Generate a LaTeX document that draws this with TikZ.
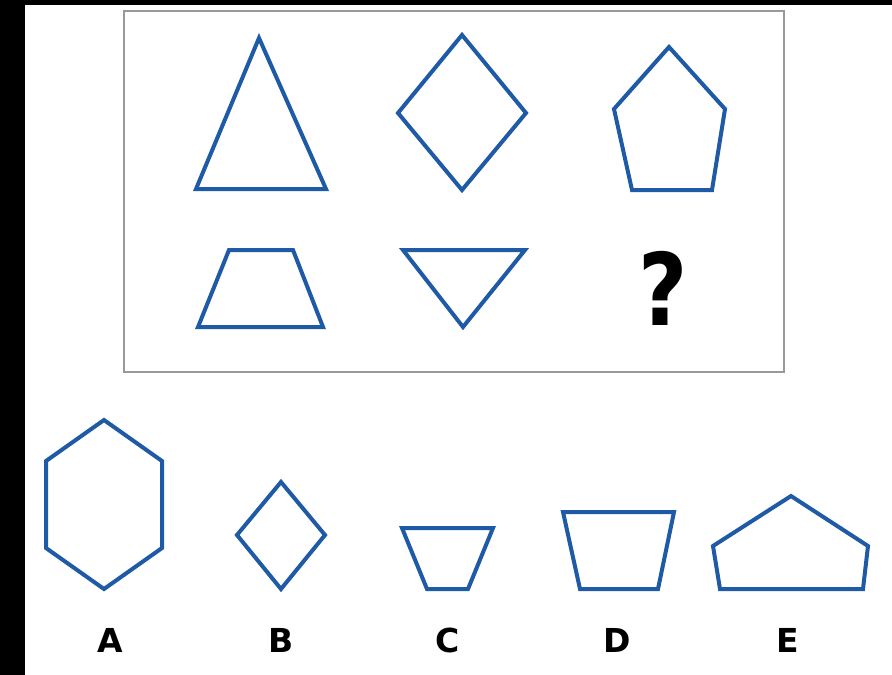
\documentclass[tikz,border=0pt]{standalone}
\usepackage{fontspec}
\usepackage{tikz}
\usetikzlibrary{positioning}
\newfontfamily\lblfont{DejaVu Sans}
\definecolor{shapeblue}{HTML}{1F5AA6}
\definecolor{framegray}{HTML}{999999}

\begin{document}
\begin{tikzpicture}[x=1pt,y=-1pt,
			shp/.style={draw=shapeblue,line width=4pt,line join=miter},
			lbl/.style={font=\lblfont\bfseries\fontsize{33}{33}\selectfont,text=black,inner sep=0pt},
			qm/.style={font=\lblfont\bfseries\fontsize{100}{100}\selectfont,text=black,inner sep=0pt,xscale=0.85,transform shape}
			]
			\useasboundingbox (0,0) rectangle (892,675);
			\fill[black] (0,0) rectangle (892,675);
			\fill[white] (25,5) rectangle (892,675);
			% puzzle frame
			\draw[framegray,line width=2.5pt] (124,11) rectangle (784,372);
			% top row
			\draw[shp] (259,38) -- (326,189) -- (196,189) -- cycle;
			\draw[shp] (462,35) -- (526,113) -- (462,190) -- (398,113) -- cycle;
			\draw[shp] (669,47) -- (725,109) -- (712,190) -- (632,190) -- (614,109) -- cycle;
			% bottom row
			\draw[shp] (229,250) -- (293,250) -- (323,327) -- (198,327) -- cycle;
			\draw[shp] (403,250) -- (525,250) -- (463,327) -- cycle;
			\node[qm] (q) at (663,288) {?};
			% answer choices
			\draw[shp] (104,420) -- (162,461) -- (162,548) -- (104,589) -- (46,548) -- (46,461) -- cycle;
			\draw[shp] (281,482) -- (325,535) -- (281,589) -- (237,535) -- cycle;
			\draw[shp] (402,528) -- (493,528) -- (468,589) -- (427,589) -- cycle;
			\draw[shp] (563,512) -- (674,512) -- (658,589) -- (580,589) -- cycle;
			\draw[shp] (791,496) -- (868,546) -- (863,589) -- (720,589) -- (713,546) -- cycle;
			\node[lbl] (la) at (110,640) {A};
			\node[lbl] (lb) at (281,640) {B};
			\node[lbl] (lc) at (448,640) {C};
			\node[lbl] (ld) at (617,640) {D};
			\node[lbl] (le) at (788,640) {E};
		\end{tikzpicture}
\end{document}
